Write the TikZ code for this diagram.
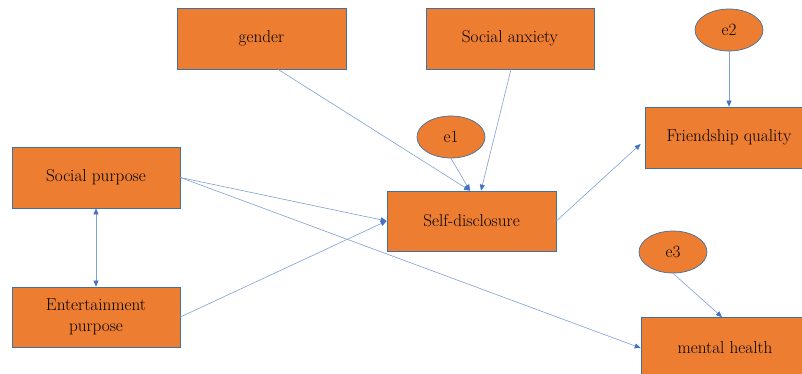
\documentclass[tikz,border=0pt]{standalone}
\usepackage{fontspec}
\usetikzlibrary{arrows.meta,shapes.geometric}
\definecolor{boxfill}{HTML}{ED7D31}
\definecolor{boxline}{HTML}{41719C}
\definecolor{conn}{HTML}{7F9FD8}
\definecolor{tipc}{HTML}{4472C4}
\tikzset{
  box/.style={draw=boxline, line width=0.7pt, fill=boxfill, minimum width=168pt, minimum height=61pt, inner sep=0pt, font=\fontsize{17.2}{21}\selectfont, align=center, text=black},
  err/.style={ellipse, draw=boxline, line width=0.7pt, fill=boxfill, minimum width=68pt, minimum height=42pt, inner sep=0pt, font=\fontsize{17.2}{21}\selectfont, text=black},
  link/.style={draw=conn, line width=0.6pt, -{Triangle[length=6pt,width=5pt,fill=tipc,color=tipc]}},
  dlink/.style={draw=conn, line width=0.6pt, {Triangle[length=6pt,width=5pt,fill=tipc,color=tipc]}-{Triangle[length=6pt,width=5pt,fill=tipc,color=tipc]}}
}
\begin{document}
\begin{tikzpicture}[x=1pt,y=-1pt]
\useasboundingbox (0,0) rectangle (802,373);
\node[box, minimum width=169pt] (gen) at (261.5,38.5) {gender};
\node[box] (anx) at (510,38.5) {Social anxiety};
\node[err] (e2) at (729,30) {e2};
\node[box] (fq) at (729,137.5) {Friendship quality};
\node[err] (e1) at (451,137) {e1};
\node[box] (sp) at (96,177.5) {Social purpose};
\node[box, minimum width=169pt, minimum height=60pt] (sd) at (471.5,221) {Self-disclosure};
\node[err] (e3) at (673,252) {e3};
\node[box, minimum height=60pt] (ent) at (96,317) {Entertainment\\purpose};
\node[box] (mh) at (725,348) {mental health};

\draw[link] ([xshift=16.5pt]gen.south) -- ([xshift=-1.5pt]sd.north);
\draw[link] ([xshift=1pt]anx.south) -- ([xshift=9.5pt]sd.north);
\draw[link] (e1.south) -- ([xshift=-1.5pt]sd.north);
\draw[link] (e2.south) -- (fq.north);
\draw[link] (sd.east) -- ([shift={(-4pt,-6.5pt)}]fq.west);
\draw[link] (sp.east) -- (sd.west);
\draw[link] (ent.east) -- (sd.west);
\draw[link] (sp.east) -- (mh.west);
\draw[link] (e3.south) -- ([xshift=-3pt]mh.north);
\draw[dlink] (sp.south) -- (ent.north);
\end{tikzpicture}
\end{document}
